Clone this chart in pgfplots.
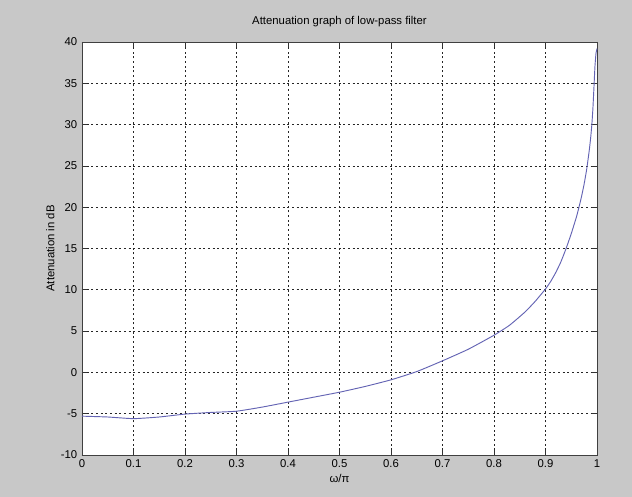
\documentclass[border=0pt]{standalone}
\usepackage{fontspec}
\setmainfont{Liberation Sans}
\usepackage{pgfplots}
\pgfplotsset{compat=1.18}
\usetikzlibrary{backgrounds}
\definecolor{figgray}{RGB}{200,200,200}
\definecolor{curvecol}{RGB}{100,100,180}
\begin{document}
\begin{tikzpicture}
\begin{axis}[
  name=ax,
  scale only axis,
  width=386.25pt, height=309.75pt,
  xmin=0, xmax=1, ymin=-10, ymax=40,
  xtick={0,0.1,0.2,0.3,0.4,0.5,0.6,0.7,0.8,0.9,1},
  xticklabels={0,0.1,0.2,0.3,0.4,0.5,0.6,0.7,0.8,0.9,1},
  ytick={-10,-5,0,5,10,15,20,25,30,35,40},
  yticklabels={-10,-5,0,5,10,15,20,25,30,35,40},
  grid=major,
  major grid style={black!85, dash pattern=on 1.5pt off 2pt, line width=0.5pt},
  tick align=inside,
  major tick length=4pt,
  tick style={black!80, line width=0.5pt},
  axis line style={black!75, line width=0.6pt},
  axis background/.style={fill=white},
  font=\fontsize{8.5}{10}\selectfont,
  tick label style={font=\fontsize{8.5}{10}\selectfont},
  /pgf/number format/assume math mode=true,
  title={Attenuation graph of low-pass filter},
  title style={at={(0.5,1)}, anchor=south, yshift=2pt, font=\fontsize{8.5}{10}\selectfont},
  xlabel={ω/π},
  ylabel={Attenuation in dB},
  xlabel style={font=\fontsize{8.5}{10}\selectfont, yshift=2pt},
  ylabel style={font=\fontsize{8.5}{10}\selectfont, yshift=-2pt},
  clip=false,
]
\addplot[curvecol, line width=0.7pt, smooth, tension=0.3] coordinates {
(0,-5.3) (0.05,-5.4) (0.1,-5.6) (0.15,-5.4) (0.2,-5.05) (0.25,-4.85)
(0.3,-4.7) (0.35,-4.2) (0.4,-3.6) (0.45,-3.0) (0.5,-2.4) (0.55,-1.7)
(0.6,-0.9) (0.65,0.1) (0.7,1.4) (0.75,2.8) (0.8,4.5) (0.83,5.7) (0.86,7.3)
(0.88,8.6) (0.9,10.1) (0.91,11.0) (0.92,12.1) (0.93,13.4) (0.94,15.0)
(0.95,16.8) (0.96,18.8) (0.965,20.0) (0.97,21.3) (0.975,22.8) (0.98,24.6)
(0.985,26.9) (0.988,28.6) (0.99,30.0) (0.992,31.9) (0.994,34.4) (0.996,37.0)
(0.998,38.6) (1.0,39.2)
};
\end{axis}
\begin{scope}[on background layer]
\fill[figgray] ([xshift=-61.5pt,yshift=-31.5pt]ax.south west) rectangle ([xshift=26.25pt,yshift=31.5pt]ax.north east);
\end{scope}
\end{tikzpicture}
\end{document}
